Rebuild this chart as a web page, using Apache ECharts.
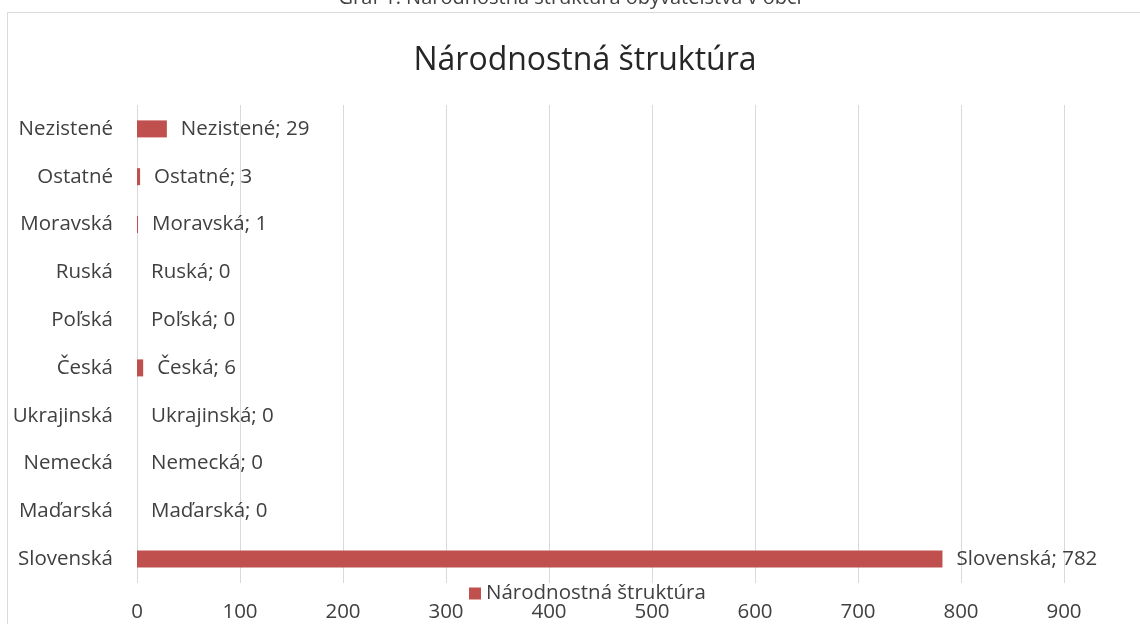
<!DOCTYPE html>
<html><head><meta charset="utf-8">
<script src="https://cdn.jsdelivr.net/npm/echarts@6/dist/echarts.min.js"></script>
<style>html,body{margin:0;padding:0;background:#fff}#c{width:1140px;height:624px}</style>
</head><body><div id="c"></div>
<script>
const categories = ['Slovenská','Maďarská','Nemecká','Ukrajinská','Česká','Poľská','Ruská','Moravská','Ostatné','Nezistené'];
const values = [782,0,0,0,6,0,0,1,3,29];
const seriesName = 'Národnostná štruktúra';
const chartTitle = 'Národnostná štruktúra';
const captionText = 'Graf 1: Národnostná štruktúra obyvateľstva v obci';
const font = 'Open Sans';
const fs = 20.5;
const chart = echarts.init(document.getElementById('c'));
chart.setOption({
  animation:false,
  graphic:[
    {type:'rect',shape:{x:7.5,y:12.5,width:1140,height:700},style:{fill:'none',stroke:'#d9d9d9',lineWidth:1},z:-1},
    {type:'text',left:'center',top:-12,style:{text:captionText,font:'20px "Open Sans"',fill:'#404040'}}
  ],
  title:{text:chartTitle,left:580,textAlign:'center',top:40,textStyle:{fontFamily:font,fontSize:32,fontWeight:'normal',color:'#262626'}},
  legend:{bottom:15,left:464,itemWidth:12,itemHeight:12,itemGap:5,icon:'rect',textStyle:{fontFamily:font,fontSize:fs,color:'#404040'},data:[seriesName]},
  grid:{left:137,right:76,top:105,bottom:41,containLabel:false},
  xAxis:{type:'value',min:0,max:900,interval:100,axisLine:{show:false},axisTick:{show:false},
    splitLine:{lineStyle:{color:'#d9d9d9'}},axisLabel:{fontFamily:font,fontSize:fs,color:'#404040',margin:19}},
  yAxis:{type:'category',data:categories,axisLine:{show:false},axisTick:{show:false},
    axisLabel:{fontFamily:font,fontSize:fs,color:'#404040',margin:24}},
  series:[{type:'bar',name:seriesName,data:values,barWidth:17,itemStyle:{color:'#C0504D'},
    label:{show:true,position:'right',distance:14,formatter:'{b}; {c}',fontFamily:font,fontSize:fs,color:'#404040'}}]
});
</script></body></html>
